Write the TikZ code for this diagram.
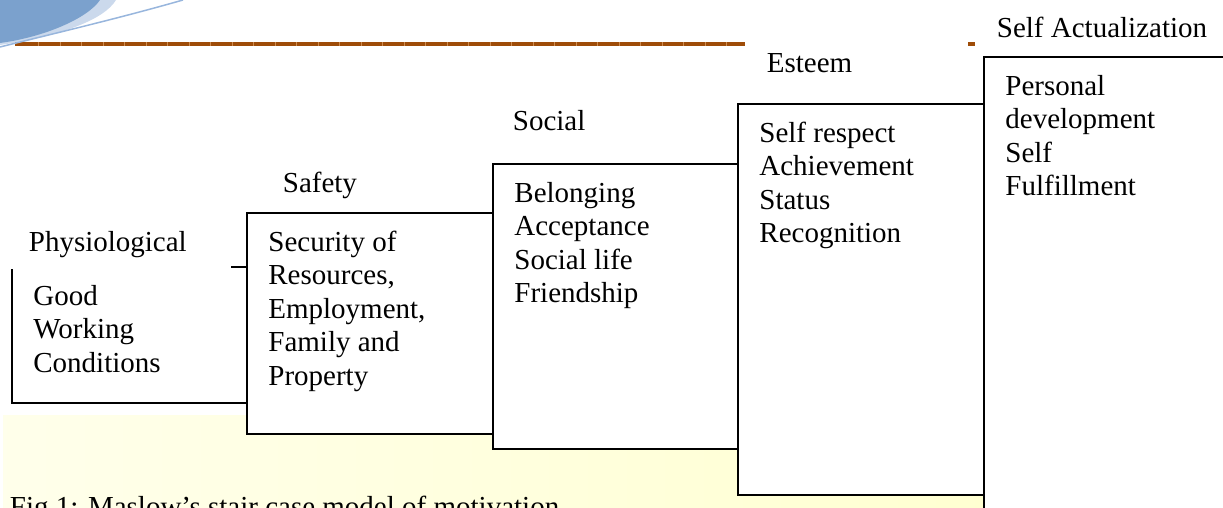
\documentclass[tikz,border=0pt]{standalone}
\usepackage{fontspec}
\setmainfont{Liberation Serif}
\usepackage{tikz}
\usetikzlibrary{positioning}

\definecolor{barorange}{RGB}{158,76,8}
\definecolor{barseam}{RGB}{205,140,80}
\definecolor{swooshdark}{RGB}{123,161,205}
\definecolor{swooshlight}{RGB}{203,217,236}
\definecolor{swooshline}{RGB}{152,182,221}

\begin{document}
\begin{tikzpicture}[x=1pt, y=-1pt, line width=1.8pt,
    % --- 样式定义 ---
    % 台阶方框 (白底黑边)
    stair/.style={rectangle, draw=black, fill=white, anchor=north west, inner sep=0pt},
    % 方框内的需求条目
    needs/.style={font=\fontsize{29}{33.5}\selectfont, align=left, inner sep=0pt, anchor=north west},
    % 台阶名称
    level/.style={font=\fontsize{29}{33.5}\selectfont, inner sep=0pt, anchor=base west}
]

    \useasboundingbox (0,0) rectangle (1223,508);
    \clip (0,0) rectangle (1223,508);

    % =========================================
    % 页眉：蓝色弧形 + 橙色横线
    % =========================================
    \draw[barorange, line width=4pt] (15,44) -- (745,44);
    \draw[barseam, line width=4pt, dash pattern=on 1pt off 20.5pt] (38,44) -- (745,44);
    \draw[barorange, line width=4pt] (968,44) -- (975,44);

    \fill[swooshlight] (0,0) -- (116,0) .. controls (104,20) and (60,36) .. (0,45) -- cycle;
    \fill[swooshdark] (0,0) -- (100,0) .. controls (88,18) and (45,37) .. (0,43) -- cycle;
    \draw[swooshline, line width=1.5pt] (183,0) .. controls (120,18) and (60,32) .. (0,47);

    % =========================================
    % 底部浅黄色背景
    % =========================================
    \shade[left color=yellow!8, right color=yellow!18] (3,415) rectangle (990,508);

    % =========================================
    % 五级台阶
    % =========================================
    \node[stair, minimum width=235, minimum height=136] (phys)   at (11,266)  {};
    \node[stair, minimum width=246, minimum height=221] (safety) at (246,212) {};
    \node[stair, minimum width=246, minimum height=285] (social) at (492,163) {};
    \node[stair, minimum width=246, minimum height=391] (esteem) at (737,103) {};
    \node[stair, minimum width=300, minimum height=500] (actual) at (983,56)  {};

    % 方框内文字
    \node[needs, below right=18pt and 21.5pt of phys.north west]   (phys_txt)   {Good\\Working\\Conditions};
    \node[needs, below right=18pt and 21.5pt of safety.north west] (safety_txt) {Security of\\Resources,\\Employment,\\Family and\\Property};
    \node[needs, below right=18pt and 21.5pt of social.north west] (social_txt) {Belonging\\Acceptance\\Social life\\Friendship};
    \node[needs, below right=18pt and 21.5pt of esteem.north west] (esteem_txt) {Self respect\\Achievement\\Status\\Recognition};
    \node[needs, below right=18pt and 21.5pt of actual.north west] (actual_txt) {Personal\\development\\Self\\Fulfillment};

    % 台阶名称 (第一级的白底盖住方框上边)
    \node[font=\fontsize{29}{33.5}\selectfont, fill=white, anchor=south west, align=left,
          minimum width=221, minimum height=50, inner xsep=19pt, inner ysep=0pt, text width=183pt]
          (phys_lbl) at (9,270) {Physiological};
    \node[level] (safety_lbl) at (282,192) {Safety};
    \node[level] (social_lbl) at (512,131) {Social};
    \node[level] (esteem_lbl) at (766,73)  {Esteem};
    \node[level] (actual_lbl) at (996,38)  {Self Actualization};

    % 图注
    \node[level] (caption) at (9,516) {Fig 1: Maslow’s stair case model of motivation};

\end{tikzpicture}
\end{document}
